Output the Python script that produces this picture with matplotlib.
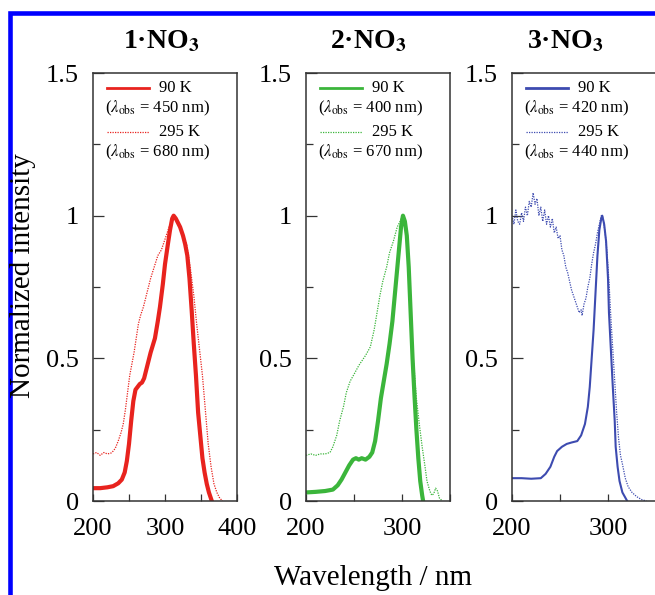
import numpy as np
import matplotlib.pyplot as plt
from matplotlib.patches import Rectangle
from matplotlib.ticker import MultipleLocator

plt.rcParams['font.family'] = ['Liberation Serif', 'DejaVu Serif']
plt.rcParams['mathtext.fontset'] = 'stix'

# ---- data (wavelength / nm, normalized intensity) ----
wl_1_90 = [200, 210, 220, 228, 235, 240, 244, 247, 250, 253, 256, 259, 262, 265, 268, 271, 275, 280,
           286, 290, 293, 297, 300, 304, 307, 310, 312, 315, 318, 321, 325, 328, 331, 334, 337, 340,
           343, 346, 349, 352, 355, 358, 361, 365]
int_1_90 = [0.045, 0.045, 0.048, 0.052, 0.062, 0.075, 0.10, 0.14, 0.20, 0.28, 0.35, 0.39, 0.40, 0.41,
            0.415, 0.43, 0.47, 0.52, 0.57, 0.63, 0.68, 0.76, 0.83, 0.90, 0.95, 0.99, 1.0, 0.99, 0.975,
            0.96, 0.93, 0.90, 0.86, 0.78, 0.67, 0.55, 0.44, 0.31, 0.23, 0.15, 0.10, 0.06, 0.03, 0.0]
wl_1_295 = [200, 205, 210, 215, 220, 225, 228, 231, 235, 239, 242, 245, 248, 251, 254, 257, 260, 263,
            266, 270, 275, 280, 285, 290, 295, 299, 303, 307, 311, 315, 320, 325, 330, 335, 340, 344,
            348, 352, 356, 360, 364, 368, 372, 376, 380]
int_1_295 = [0.165, 0.17, 0.16, 0.17, 0.165, 0.168, 0.175, 0.185, 0.21, 0.24, 0.27, 0.32, 0.38, 0.44,
             0.48, 0.52, 0.57, 0.62, 0.65, 0.68, 0.73, 0.78, 0.82, 0.86, 0.88, 0.91, 0.94, 0.97, 1.0,
             0.985, 0.96, 0.93, 0.90, 0.82, 0.72, 0.62, 0.53, 0.44, 0.32, 0.20, 0.12, 0.06, 0.03, 0.01, 0.0]

wl_2_90 = [200, 210, 220, 228, 233, 237, 241, 245, 249, 252, 255, 258, 262, 266, 269, 272, 275, 278,
           281, 284, 287, 290, 293, 296, 299, 301, 303, 305, 307, 309, 311, 313, 315, 317, 319, 321, 322]
int_2_90 = [0.03, 0.032, 0.035, 0.04, 0.055, 0.075, 0.10, 0.125, 0.145, 0.15, 0.145, 0.15, 0.145, 0.155,
            0.17, 0.21, 0.28, 0.36, 0.42, 0.48, 0.55, 0.63, 0.74, 0.85, 0.96, 1.0, 0.98, 0.93, 0.82,
            0.66, 0.50, 0.37, 0.25, 0.15, 0.07, 0.02, 0.0]
wl_2_295 = [200, 205, 210, 215, 220, 225, 228, 232, 235, 239, 242, 246, 251, 255, 258, 262, 267, 271,
            274, 277, 280, 284, 287, 291, 295, 298, 300, 302, 304, 306, 308, 310, 312, 315, 318, 321,
            324, 326, 329, 331, 333, 335, 337, 339, 342]
int_2_295 = [0.16, 0.165, 0.16, 0.165, 0.165, 0.17, 0.19, 0.23, 0.28, 0.33, 0.38, 0.42, 0.45, 0.475,
             0.49, 0.51, 0.54, 0.60, 0.66, 0.72, 0.77, 0.82, 0.87, 0.91, 0.96, 0.98, 1.0, 0.99, 0.96,
             0.89, 0.76, 0.60, 0.49, 0.36, 0.27, 0.19, 0.12, 0.07, 0.035, 0.02, 0.025, 0.045, 0.035,
             0.01, 0.0]

wl_3_90 = [200, 210, 220, 230, 235, 240, 244, 247, 252, 257, 262, 268, 272, 276, 279, 281, 283, 285,
           287, 289, 291, 293, 294, 296, 298, 300, 301, 303, 305, 307, 308, 310, 312, 315, 320]
int_3_90 = [0.08, 0.08, 0.078, 0.08, 0.095, 0.12, 0.155, 0.175, 0.19, 0.20, 0.205, 0.21, 0.23, 0.27,
            0.33, 0.40, 0.50, 0.60, 0.73, 0.86, 0.95, 0.99, 1.0, 0.97, 0.91, 0.78, 0.66, 0.53, 0.40,
            0.28, 0.19, 0.12, 0.07, 0.03, 0.0]
wl_3_295 = [200, 202, 204, 206, 208, 210, 212, 214, 216, 218, 220, 222, 224, 226, 228, 230, 232, 234,
            236, 238, 240, 242, 244, 246, 248, 250, 252, 254, 256, 258, 260, 262, 264, 266, 268, 270,
            272, 273, 275, 277, 279, 281, 283, 285, 287, 289, 291, 293, 295, 297, 299, 301, 303, 305,
            307, 309, 311, 313, 315, 318, 321, 325, 330, 335, 340]
int_3_295 = [1.0, 0.97, 1.02, 0.98, 0.97, 1.01, 0.98, 1.03, 1.0, 1.05, 1.03, 1.08, 1.04, 1.06, 1.0,
             1.03, 0.98, 1.02, 0.97, 1.0, 0.96, 0.99, 0.94, 0.96, 0.92, 0.93, 0.88, 0.86, 0.82, 0.80,
             0.77, 0.74, 0.72, 0.70, 0.68, 0.66, 0.67, 0.65, 0.69, 0.71, 0.75, 0.78, 0.83, 0.87, 0.90,
             0.94, 0.97, 1.0, 0.99, 0.94, 0.87, 0.77, 0.64, 0.53, 0.42, 0.31, 0.22, 0.16, 0.13, 0.08,
             0.05, 0.03, 0.015, 0.005, 0.0]

titles = ['1', '2', '3']
colors = ['#e8231e', '#3bb53b', '#3d4bb0']
solid_lw = [3.0, 3.0, 1.5]
xmax = [400, 350, 350]
obs_90 = [450, 400, 420]
obs_295 = [680, 670, 440]
title_x = [0.47, 0.43, 0.37]
curves = [(wl_1_90, int_1_90, wl_1_295, int_1_295),
          (wl_2_90, int_2_90, wl_2_295, int_2_295),
          (wl_3_90, int_3_90, wl_3_295, int_3_295)]

fig = plt.figure(figsize=(6.55, 5.95), dpi=100)
lefts = [93 / 655, 306 / 655, 512 / 655]

for i in range(3):
    ax = fig.add_axes([lefts[i], 94 / 595, 144 / 655, 428 / 595])
    w90, i90, w295, i295 = curves[i]
    ax.plot(w295, i295, color=colors[i], lw=0.9, ls=(0, (1, 1)))
    ax.plot(w90, i90, color=colors[i], lw=solid_lw[i])
    ax.set_xlim(200, xmax[i])
    ax.set_ylim(0, 1.5)
    ax.xaxis.set_major_locator(MultipleLocator(100))
    ax.xaxis.set_minor_locator(MultipleLocator(50))
    ax.yaxis.set_minor_locator(MultipleLocator(0.25))
    ax.set_yticks([0, 0.5, 1, 1.5])
    ax.set_yticklabels(['0', '0.5', '1', '1.5'])
    ax.tick_params(which='both', direction='in', top=False, right=False,
                   labelsize=19, width=0.9, color='#333333')
    ax.tick_params(axis='y', which='major', length=8, pad=10)
    ax.tick_params(axis='y', which='minor', length=5)
    ax.tick_params(axis='x', which='both', length=5, pad=12)
    for sp in ax.spines.values():
        sp.set_linewidth(1.1)
        sp.set_color('#333333')

    ax.text(title_x[i], 1.058, titles[i] + '\u00b7NO$_{\\mathbf{3}}$', transform=ax.transAxes,
            ha='center', va='baseline', fontsize=20, fontweight='bold')

    # legend
    ax.plot([0.097, 0.39], [0.965, 0.965], color=colors[i], lw=2.0, transform=ax.transAxes)
    ax.plot([0.097, 0.39], [0.862, 0.862], color=colors[i], lw=0.9, ls=(0, (1, 1)),
            transform=ax.transAxes)
    ax.text(0.46, 0.965, '90 K', transform=ax.transAxes, fontsize=12, va='center')
    ax.text(0.08, 0.918, r'($\lambda_{\rm obs}$ = %d nm)' % obs_90[i], transform=ax.transAxes,
            fontsize=12, va='center')
    ax.text(0.46, 0.862, '295 K', transform=ax.transAxes, fontsize=12, va='center')
    ax.text(0.08, 0.815, r'($\lambda_{\rm obs}$ = %d nm)' % obs_295[i], transform=ax.transAxes,
            fontsize=12, va='center')

fig.text(373 / 655, 1 - 578 / 595, 'Wavelength / nm', ha='center', va='center', fontsize=21)
fig.text(23 / 655, 1 - 276 / 595, 'Normalized intensity', ha='center', va='center',
         rotation=90, fontsize=21)

# blue frame around the figure (cut at the right and bottom)
fig.add_artist(Rectangle((9.5 / 655, -0.1), 1.2, 0.1 + 1 - 13 / 595, transform=fig.transFigure,
                         fill=False, edgecolor='#0000ff', lw=3.3))

fig.savefig('out.png', dpi=100)
